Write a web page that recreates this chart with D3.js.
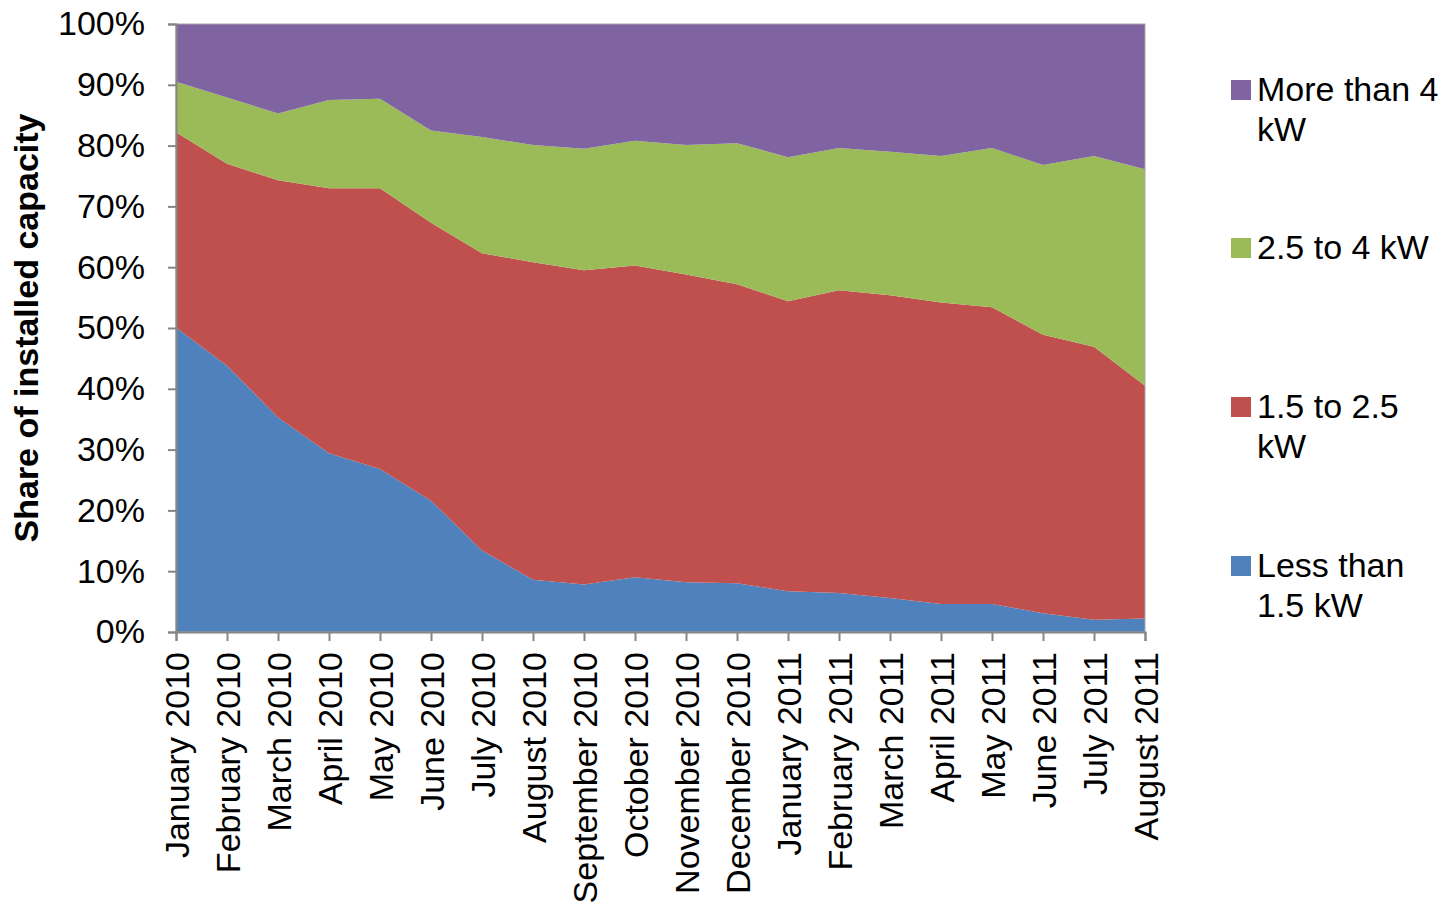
<!DOCTYPE html>
<html><head><meta charset="utf-8">
<script src="https://cdn.jsdelivr.net/npm/d3@7"></script>
<style>body{margin:0;background:#fff;} text{font-family:"Liberation Sans",Arial,sans-serif;fill:#000;}</style>
</head><body>
<svg id="c" width="1441" height="903"></svg>
<script>
const months = ["January 2010","February 2010","March 2010","April 2010","May 2010","June 2010","July 2010","August 2010","September 2010","October 2010","November 2010","December 2010","January 2011","February 2011","March 2011","April 2011","May 2011","June 2011","July 2011","August 2011"];
const lessThan15 = [50.1,43.8,35.3,29.4,26.8,21.6,13.4,8.6,7.8,9.0,8.2,8.0,6.7,6.4,5.6,4.6,4.6,3.1,2.0,2.2];
const from15to25 = [32.1,33.2,39.0,43.6,46.2,45.7,48.9,52.2,51.7,51.3,50.6,49.2,47.7,49.8,49.8,49.6,48.8,45.8,44.9,38.3];
const from25to4 = [8.3,10.9,11.0,14.5,14.7,15.2,19.1,19.3,20.0,20.5,21.3,23.2,23.7,23.4,23.6,24.1,26.2,27.9,31.4,35.6];
const moreThan4 = [9.5,12.1,14.7,12.5,12.3,17.5,18.6,19.9,20.5,19.2,19.9,19.6,21.9,20.4,21.0,21.7,20.4,23.2,21.7,23.9];
const yTicks = [0,10,20,30,40,50,60,70,80,90,100];
const seriesNames = ["Less than 1.5 kW","1.5 to 2.5 kW","2.5 to 4 kW","More than 4 kW"];
const colors = ["#4f81bd","#c0504d","#9bbb59","#8064a2"];
const legendLines = [["Less than","1.5 kW"],["1.5 to 2.5","kW"],["2.5 to 4 kW"],["More than 4","kW"]];

const FS = 34;
const svg = d3.select("#c");
const L=176,R=1145,T=24,B=632;
const x = d3.scalePoint().domain(months).range([L,R]).padding(0);
const y = d3.scaleLinear().domain([0,100]).range([B,T]);

const table = months.map((m,i)=>({m, s0:lessThan15[i], s1:from15to25[i], s2:from25to4[i], s3:moreThan4[i]}));
const keys = ["s0","s1","s2","s3"];
const stacked = d3.stack().keys(keys)(table);
const area = d3.area().x(d=>x(d.data.m)).y0(d=>y(d[0])).y1(d=>y(Math.min(100,d[1])));

svg.append("g").selectAll("path").data(stacked).join("path")
  .attr("d", d=>area(d))
  .attr("fill",(d,i)=>colors[i]);
svg.append("rect").attr("x",L).attr("y",T).attr("width",R-L).attr("height",B-T)
  .attr("fill","none").attr("stroke","#a6a6a6").attr("stroke-width",1);

const yAxis = d3.axisLeft(y).tickValues(yTicks).tickFormat(d=>d+"%").tickSize(8).tickPadding(23);
const gy = svg.append("g").attr("transform",`translate(${L},0)`).call(yAxis);
gy.select(".domain").attr("stroke","#868686").attr("stroke-width",2);
gy.selectAll(".tick line").attr("stroke","#868686").attr("stroke-width",2);
gy.selectAll("text").attr("font-size",FS).attr("font-family","Liberation Sans, Arial, sans-serif").attr("fill","#000");

const xAxis = d3.axisBottom(x).tickSize(9).tickPadding(0);
const gx = svg.append("g").attr("transform",`translate(0,${B})`).call(xAxis);
gx.select(".domain").attr("stroke","#868686").attr("stroke-width",2);
gx.selectAll(".tick line").attr("stroke","#868686").attr("stroke-width",2);
gx.selectAll("text").attr("font-size",FS).attr("font-family","Liberation Sans, Arial, sans-serif").attr("fill","#000")
  .attr("text-anchor","end").attr("transform","rotate(-90)").attr("x",-20).attr("y",0).attr("dy","0.36em");

svg.append("text").attr("transform","translate(38,328) rotate(-90)").attr("text-anchor","middle")
  .attr("font-size",FS).attr("font-weight","bold").text("Share of installed capacity");

const legendBase = [577,418,259,101];
const lg = svg.append("g");
seriesNames.forEach((n,i)=>{
  const by = legendBase[i];
  lg.append("rect").attr("x",1231).attr("y",by-21).attr("width",20).attr("height",20).attr("fill",colors[i]);
  const t = lg.append("text").attr("x",1257).attr("y",by).attr("font-size",FS);
  legendLines[i].forEach((ln,j)=>{
    t.append("tspan").attr("x",1257).attr("y",by+j*40).text(ln);
  });
});
</script>
</body></html>
